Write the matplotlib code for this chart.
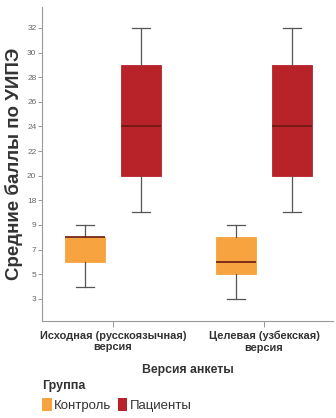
import numpy as np
import matplotlib
matplotlib.use("Agg")
import matplotlib.pyplot as plt
from matplotlib.patches import Patch

# box statistics: min, q1, median, q3, max
groups = ["Исходная (русскоязычная)\nверсия", "Целевая (узбекская)\nверсия"]
control = [[4, 6, 8, 8, 9], [3, 5, 6, 8, 9]]
patients = [[13.7, 20, 24, 29, 32], [13.7, 20, 24, 29, 32]]
yticks = [3, 5, 7, 9, 18, 20, 22, 24, 26, 28, 30, 32]

c_orange = "#F7A33F"
c_red = "#B8232A"


# the y axis is squeezed between 9 and 18
def fwd(y):
    y = np.asarray(y, dtype=float)
    return np.where(y <= 9, y, np.where(y < 18, 9 + (y - 9) * 2 / 9, 11 + (y - 18)))


def inv(t):
    t = np.asarray(t, dtype=float)
    return np.where(t <= 9, t, np.where(t < 11, 9 + (t - 9) * 9 / 2, 18 + (t - 11)))


def stats(v, pos):
    return dict(whislo=v[0], q1=v[1], med=v[2], q3=v[3], whishi=v[4], pos=pos)


plt.rcParams["font.family"] = ["Liberation Sans", "DejaVu Sans"]
fig = plt.figure(figsize=(3.36, 4.18), dpi=100)
ax = fig.add_axes([42 / 336, 1 - 321 / 418, 291 / 336, 314 / 418])
ax.set_yscale("function", functions=(fwd, inv))

off = 0.185
w = 0.265
x = np.arange(len(groups))
for data, d, col in [(control, -off, c_orange), (patients, off, c_red)]:
    bs = [stats(v, 0) for v in data]
    ax.bxp(bs, positions=x + d, widths=w, patch_artist=True, showfliers=False,
           boxprops=dict(facecolor=col, edgecolor=col, linewidth=0.6),
           medianprops=dict(color="#6b1a12", linewidth=1.2),
           whiskerprops=dict(color="#555555", linewidth=0.9),
           capprops=dict(color="#555555", linewidth=0.9),
           capwidths=w * 0.45)

ax.set_xlim(-0.47, 1.457)
ax.set_ylim(1.2, 33.7)
ax.set_yticks(yticks)
ax.set_yticklabels([str(v) for v in yticks], fontsize=6, color="#666666")
ax.yaxis.set_minor_locator(matplotlib.ticker.NullLocator())
ax.set_xticks(x)
ax.set_xticklabels(groups, fontsize=7.9, color="#333333", fontweight="bold")
ax.tick_params(axis="y", length=3, width=0.6, color="#888888", pad=1)
ax.tick_params(axis="x", length=4, width=0.6, color="#888888", pad=3)
for s in ["top", "right"]:
    ax.spines[s].set_visible(False)
for s in ["left", "bottom"]:
    ax.spines[s].set_color("#999999")
    ax.spines[s].set_linewidth(0.8)

ax.set_ylabel("Средние баллы по УИПЭ", fontsize=13.5, fontweight="bold", color="#333333", labelpad=3)
ax.set_xlabel("Версия анкеты", fontsize=8.8, fontweight="bold", color="#333333", labelpad=8)

handles = [Patch(facecolor=c_orange, label="Контроль"), Patch(facecolor=c_red, label="Пациенты")]
leg = fig.legend(handles=handles, title="Группа", loc="upper left", bbox_to_anchor=(30 / 336, 1 - 368 / 418),
                 ncol=2, frameon=False, fontsize=9.5, handlelength=0.75, handleheight=1.1,
                 handletextpad=0.15, columnspacing=0.5, alignment="left")
leg.get_title().set_fontweight("bold")
leg.get_title().set_fontsize(9)
leg.get_title().set_color("#333333")
for t in leg.get_texts():
    t.set_color("#333333")

fig.savefig("out.png", dpi=100)
